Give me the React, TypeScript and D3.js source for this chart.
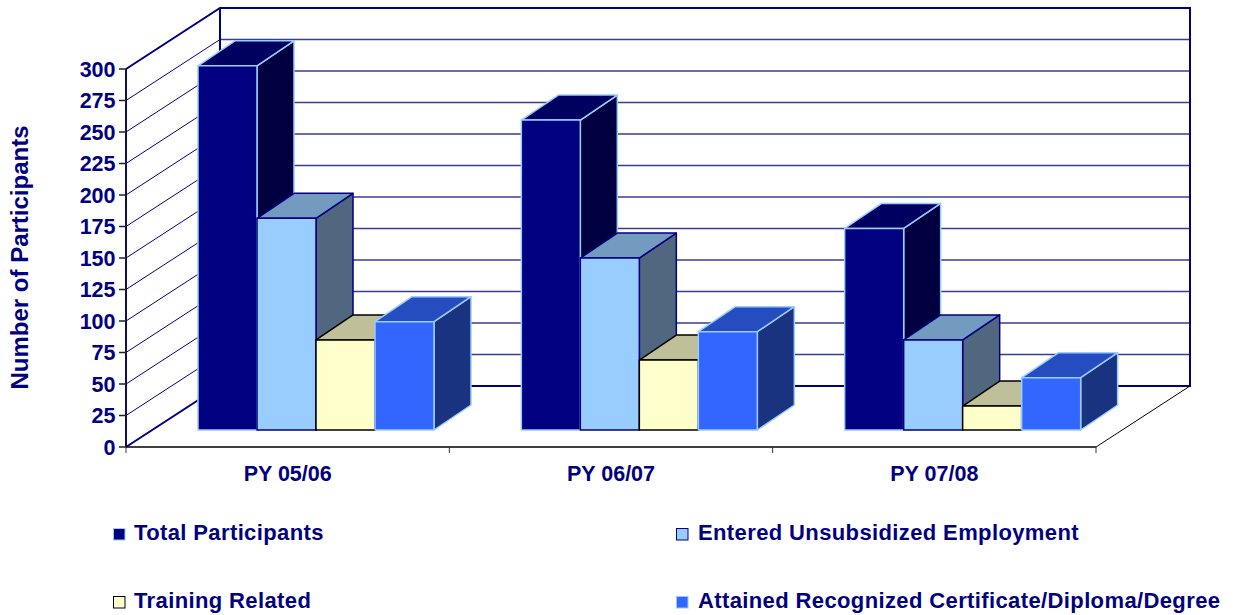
import React from "react";
import * as d3 from "d3";

const categories = ["PY 05/06", "PY 06/07", "PY 07/08"];
const seriesNames = [
  "Total Participants",
  "Entered Unsubsidized Employment",
  "Training Related",
  "Attained Recognized Certificate/Diploma/Degree",
];
const totalParticipants = [289, 246, 160];
const enteredEmployment = [168, 136.5, 71.5];
const trainingRelated = [71.5, 55.5, 19];
const attainedCertificate = [86, 78, 41.5];
const seriesValues = [totalParticipants, enteredEmployment, trainingRelated, attainedCertificate];
const yTicks = d3.range(0, 301, 25);

const frontColors = ["#000080", "#99CCFF", "#FFFFCC", "#3366FF"];
const topColors = ["#000060", "#739ABF", "#BFBF99", "#264DBF"];
const sideColors = ["#000040", "#516780", "#808066", "#1A3380"];
const strokeColors = ["#99CCFF", "#000080", "#000000", "#99CCFF"];

const NAVY = "#000080";
const FONT = "'Liberation Sans', Arial, sans-serif";

// Oblique projection of the plot box
const wallDx = 94;
const wallDy = -61;
const barDx = 37;
const barDy = -25;
const floorDx = 26;
const floorDy = -17;

const y = d3.scaleLinear().domain([0, 300]).range([447, 69]);
const xBand = d3.scaleBand<string>().domain(categories).range([126, 1096]);
const xSeries = d3
  .scaleBand<number>()
  .domain(d3.range(seriesNames.length))
  .range([46, 282]);

const legendRows = [
  { x: 113, textX: 134, y: 528, baseline: 540, s: 0 },
  { x: 676, textX: 698, y: 528, baseline: 540, s: 1 },
  { x: 113, textX: 134, y: 596, baseline: 608, s: 2 },
  { x: 676, textX: 698, y: 596, baseline: 608, s: 3 },
];

function poly(points: [number, number][]) {
  return points.map((p) => p.join(",")).join(" ");
}

function Bar3D({ cat, s }: { cat: number; s: number }) {
  const v = seriesValues[s][cat];
  const x0 = (xBand(categories[cat]) as number) + floorDx + (xSeries(s) as number);
  const x1 = x0 + xSeries.bandwidth();
  const yBase = y(0) + floorDy;
  const yTop = y(v) + floorDy;
  const stroke = strokeColors[s];
  return (
    <g stroke={stroke} strokeWidth={1.5} strokeLinejoin="round">
      <polygon
        fill={sideColors[s]}
        points={poly([
          [x1, yTop],
          [x1 + barDx, yTop + barDy],
          [x1 + barDx, yBase + barDy],
          [x1, yBase],
        ])}
      />
      <polygon
        fill={topColors[s]}
        points={poly([
          [x0, yTop],
          [x0 + barDx, yTop + barDy],
          [x1 + barDx, yTop + barDy],
          [x1, yTop],
        ])}
      />
      <rect x={x0} y={yTop} width={x1 - x0} height={yBase - yTop} fill={frontColors[s]} />
    </g>
  );
}

export default function App() {
  const textStyle = { fontFamily: FONT, fontWeight: 700, fill: NAVY } as const;
  return (
    <svg
      width={1233}
      height={615}
      viewBox="0 0 1233 615"
      style={{ position: "absolute", left: 0, top: 0, display: "block", background: "#fff" }}
    >
      {/* Gridlines running along the side and back walls */}
      {yTicks.slice(1, -1).map((t) => (
        <g key={t}>
          <line x1={126} y1={y(t)} x2={126 + wallDx} y2={y(t) + wallDy} stroke={NAVY} strokeWidth={1} />
          <line
            x1={126 + wallDx}
            y1={y(t) + wallDy}
            x2={1096 + wallDx}
            y2={y(t) + wallDy}
            stroke="#3A3A99"
            strokeWidth={1.6}
          />
        </g>
      ))}

      {/* Walls and floor edges */}
      <g fill="none" stroke={NAVY} strokeWidth={2}>
        <polyline
          points={poly([
            [126, y(300)],
            [126 + wallDx, y(300) + wallDy],
            [1096 + wallDx, y(300) + wallDy],
            [1096 + wallDx, y(0) + wallDy],
            [126 + wallDx, y(0) + wallDy],
            [126, y(0)],
          ])}
        />
        <line x1={126 + wallDx} y1={y(300) + wallDy} x2={126 + wallDx} y2={y(0) + wallDy} />
      </g>
      <line x1={1096} y1={y(0)} x2={1096 + wallDx} y2={y(0) + wallDy} stroke="#000" strokeWidth={1} />

      {/* Value axis */}
      <line x1={126} y1={y(300)} x2={126} y2={y(0)} stroke="#101050" strokeWidth={2} />
      {yTicks.map((t) => (
        <g key={t}>
          <line x1={119} y1={y(t)} x2={126} y2={y(t)} stroke="#222" strokeWidth={1.5} />
          <text x={115.5} y={y(t)} dy="0.36em" textAnchor="end" fontSize={21.5} style={textStyle}>
            {t}
          </text>
        </g>
      ))}

      {/* Category axis */}
      <line x1={126} y1={y(0)} x2={1096} y2={y(0)} stroke="#000" strokeWidth={1.5} />
      {[...categories.map((c) => xBand(c) as number), 1096].map((tx) => (
        <line key={tx} x1={tx} y1={y(0)} x2={tx} y2={453} stroke="#333" strokeWidth={1} />
      ))}
      {categories.map((c) => (
        <text
          key={c}
          x={(xBand(c) as number) + xBand.bandwidth() / 2}
          y={481}
          textAnchor="middle"
          fontSize={21.5}
          style={textStyle}
        >
          {c}
        </text>
      ))}

      {/* Columns, painted back to front within each group */}
      {categories.map((c, ci) => (
        <g key={c}>
          {seriesNames.map((n, si) => (
            <Bar3D key={n} cat={ci} s={si} />
          ))}
        </g>
      ))}

      <text
        transform="translate(28,257.5) rotate(-90)"
        textAnchor="middle"
        fontSize={24}
        style={textStyle}
      >
        Number of Participants
      </text>

      {/* Legend */}
      {legendRows.map((r) => (
        <g key={r.s}>
          <rect
            x={r.x + 0.5}
            y={r.y + 0.5}
            width={11.5}
            height={11.5}
            fill={frontColors[r.s]}
            stroke={strokeColors[r.s]}
            strokeWidth={1}
          />
          <text x={r.textX} y={r.baseline} fontSize={22} letterSpacing={0.38} style={textStyle}>
            {seriesNames[r.s]}
          </text>
        </g>
      ))}
    </svg>
  );
}
